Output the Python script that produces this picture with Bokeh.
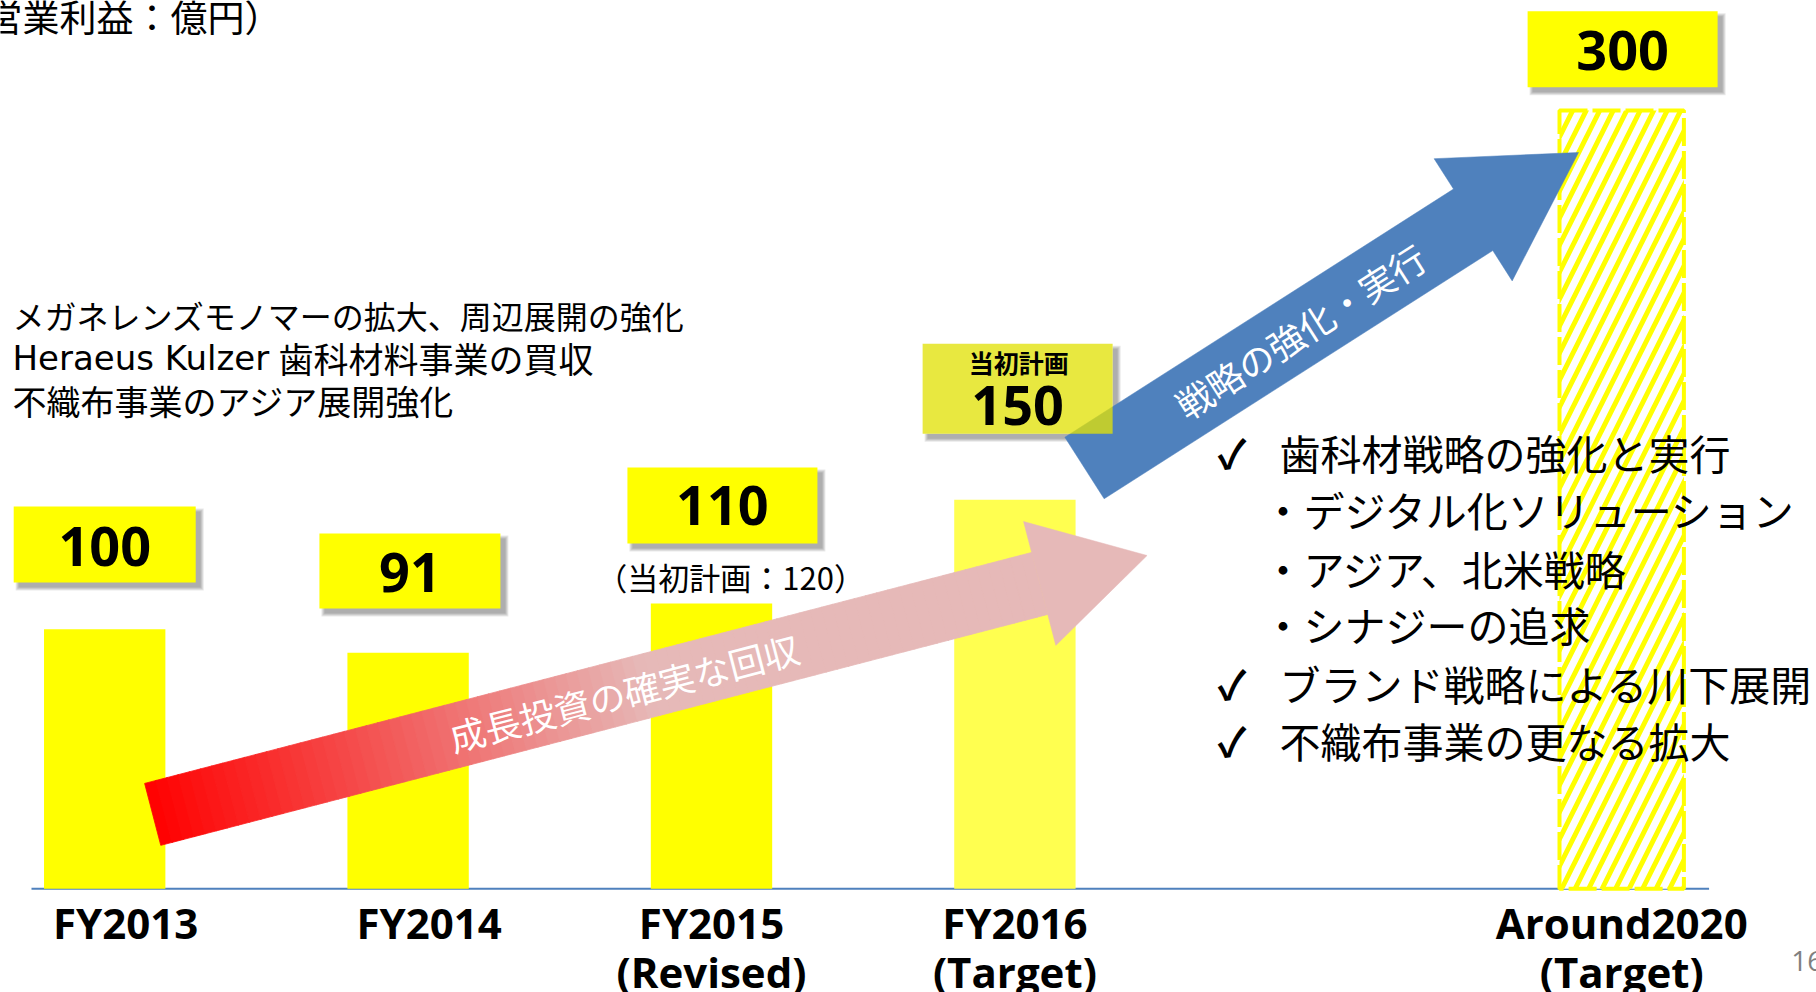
import math
from bokeh.plotting import figure
from bokeh.models import Range1d, FixedTicker, ColumnDataSource
from bokeh.core.properties import value
from bokeh.embed import file_html
from bokeh.resources import INLINE

# ---------------- data ----------------
categories = ["\u2002\u2002FY2013", "\u2002\u2002FY2014", "FY2015\n(Revised)",
              "FY2016\n(Target)", "Around2020\n(Target)"]
positions = [0, 1, 2, 3, 5]
profits = [100, 91, 110, 150, 300]          # 営業利益（億円）
value_labels = ["100", "91", "110", "150", "300"]
initial_plan_fy2015 = 120
initial_plan_tag = "当初計画"

unit_title = "（営業利益：億円）"
past_line1 = "メガネレンズモノマーの拡大、周辺展開の強化"
past_line2_company = "Heraeus Kulzer"
past_line2_rest = "歯科材料事業の買収"
past_line3 = "不織布事業のアジア展開強化"
strategy_checks = ["✓", "", "", "", "✓", "✓"]
strategy_lines = [
    "歯科材戦略の強化と実行",
    "・デジタル化ソリューション",
    "・アジア、北米戦略",
    "・シナジーの追求",
    "ブランド戦略による川下展開",
    "不織布事業の更なる拡大",
]
red_arrow_text = "成長投資の確実な回収"
blue_arrow_text = "戦略の強化・実行"
page_number = "16"

# ---------------- layout ----------------
FRAME_W, FRAME_H = 1816, 992
PX_X = 303.4        # pixels per category step
PX_Y = 2.5944       # pixels per 億円
X_LEFT = -0.34344
Y_TOP = 342.39
x_rng = Range1d(X_LEFT, X_LEFT + FRAME_W / PX_X)
y_rng = Range1d(Y_TOP - FRAME_H / PX_Y, Y_TOP)

JP = value("Noto Sans CJK JP")
NUM = value("Open Sans")

p = figure(frame_width=FRAME_W, frame_height=FRAME_H, x_range=x_rng, y_range=y_rng,
           output_backend="svg", toolbar_location=None, y_axis_location=None,
           min_border=0, min_border_left=0, min_border_right=0,
           min_border_top=0, min_border_bottom=0)
p.outline_line_color = None
p.grid.visible = False
p.background_fill_color = "white"
p.border_fill_color = "white"

# x axis: labels only, drawn at the baseline
ax = p.xaxis[0]
ax.fixed_location = 0
ax.ticker = FixedTicker(ticks=positions)
ax.major_label_overrides = {pos: cat for pos, cat in zip(positions, categories)}
ax.axis_line_color = None
ax.major_tick_line_color = None
ax.minor_tick_line_color = None
ax.major_tick_out = 5
ax.major_tick_in = 0
ax.major_label_text_font = "Open Sans"
ax.major_label_text_font_style = "bold"
ax.major_label_text_font_size = "42px"
ax.major_label_text_color = "black"
ax.major_label_text_line_height = 0.865
ax.major_label_standoff = 0

# baseline
p.segment(x0=[-0.2413], y0=[0], x1=[5.288], y1=[0], line_color="#4F81BD", line_width=2)

# solid bars
bar_colors = ["#FFFF00", "#FFFF00", "#FFFF00", "#FFFF50"]
src = ColumnDataSource(dict(x=positions[:4], top=profits[:4], color=bar_colors))
p.vbar(x="x", top="top", width=0.4, source=src, fill_color="color", line_color=None)

# hatched target bar
p.vbar(x=[positions[4]], top=[profits[4]], width=0.41, fill_color="white",
       hatch_pattern="/", hatch_color="#FFFF00", hatch_weight=5, hatch_scale=27,
       line_color="#FFFF00", line_width=4, line_dash="28 5")


# ---------------- arrows ----------------
def arrow_geom(tail, tip):
    tx, ty = tail[0] * PX_X, tail[1] * PX_Y
    hx, hy = tip[0] * PX_X, tip[1] * PX_Y
    dx, dy = hx - tx, hy - ty
    L = math.hypot(dx, dy)
    ux, uy = dx / L, dy / L
    return tx, ty, ux, uy, -uy, ux, L


def to_data(pts):
    return [a / PX_X for a, b in pts], [b / PX_Y for a, b in pts]


def arrow_body_slices(tail, tip, half_w, head_len, n):
    tx, ty, ux, uy, nx, ny, L = arrow_geom(tail, tip)
    body = L - head_len
    xs, ys, ts = [], [], []
    for i in range(n):
        s0 = body * i / n
        s1 = body * (i + 1) / n + (0.6 if i < n - 1 else 0)
        pts = [(tx + ux * s0 + nx * half_w, ty + uy * s0 + ny * half_w),
               (tx + ux * s1 + nx * half_w, ty + uy * s1 + ny * half_w),
               (tx + ux * s1 - nx * half_w, ty + uy * s1 - ny * half_w),
               (tx + ux * s0 - nx * half_w, ty + uy * s0 - ny * half_w)]
        qx, qy = to_data(pts)
        xs.append(qx)
        ys.append(qy)
        ts.append((s0 + s1) / 2 / L)
    return xs, ys, ts


def arrow_head(tail, tip, head_len, head_hw):
    tx, ty, ux, uy, nx, ny, L = arrow_geom(tail, tip)
    b = L - head_len
    bx, by = tx + ux * b, ty + uy * b
    return to_data([(bx + nx * head_hw, by + ny * head_hw), (tx + ux * L, ty + uy * L),
                    (bx - nx * head_hw, by - ny * head_hw)])


def arrow_full(tail, tip, half_w, head_len, head_hw):
    tx, ty, ux, uy, nx, ny, L = arrow_geom(tail, tip)
    b = L - head_len
    bx, by = tx + ux * b, ty + uy * b
    return to_data([(tx + nx * half_w, ty + ny * half_w), (bx + nx * half_w, by + ny * half_w),
                    (bx + nx * head_hw, by + ny * head_hw), (tx + ux * L, ty + uy * L),
                    (bx - nx * head_hw, by - ny * head_hw), (bx - nx * half_w, by - ny * half_w),
                    (tx - nx * half_w, ty - ny * half_w)])


def point_along(tail, tip, s):
    tx, ty, ux, uy, nx, ny, L = arrow_geom(tail, tip)
    (qx,), (qy,) = to_data([(tx + ux * s, ty + uy * s)])
    return qx, qy, math.atan2(uy, ux)


# red gradient arrow (growth investment)
RED_TAIL, RED_TIP = (0.1582, 28.68), (3.4357, 128.47)
red0, pink = (255, 0, 0), (230, 185, 184)
xs, ys, ts = arrow_body_slices(RED_TAIL, RED_TIP, 32, 111, 80)
cols = []
for t in ts:
    f = min(t / 0.5, 1.0)
    c = tuple(int(round(a + (b - a) * f)) for a, b in zip(red0, pink))
    cols.append("#%02x%02x%02x" % c)
p.patches(xs=xs, ys=ys, fill_color=cols, line_color=cols, line_width=0.8)
hx, hy = arrow_head(RED_TAIL, RED_TIP, 111, 64)
p.patch(x=hx, y=hy, fill_color="#E6B9B8", line_color="#E6B9B8", line_width=0.5)
rtx, rty, rang = point_along(RED_TAIL, RED_TIP, 487)
p.text(x=[rtx], y=[rty], text=[red_arrow_text], angle=rang, text_font=JP,
       text_font_size="36px", text_color="white", text_align="center",
       text_baseline="middle")

# value boxes (shadow + box + number)
box_dx = [0.0, 0.006, 0.036, 0.009, 0.003]
box_rise = [32.7, 31.5, 37.7, 42.7, 23.6]
box_w_px = [182, 181, 190, 190, 190]
box_h_px = [76, 75, 76, 90, 76]
box_fill = ["#FFFF00", "#FFFF00", "#FFFF00", "#E1E107", "#FFFF00"]
box_alpha = [1, 1, 1, 0.77, 1]
num_dy_px = [-2, -2, 0, -17, -1]

bx = [pos + d for pos, d in zip(positions, box_dx)]
by = [v + r for v, r in zip(profits, box_rise)]


def draw_shadows(idx):
    for k in range(4):
        grow = 2 * k
        p.rect(x=[bx[i] + 5 / PX_X for i in idx], y=[by[i] - 5 / PX_Y for i in idx],
               width=[(box_w_px[i] + grow) / PX_X for i in idx],
               height=[(box_h_px[i] + grow) / PX_Y for i in idx],
               fill_color="black", fill_alpha=0.09, line_color=None)


def draw_boxes(idx, under_white=False):
    if under_white:
        p.rect(x=[bx[i] for i in idx], y=[by[i] for i in idx],
               width=[box_w_px[i] / PX_X for i in idx],
               height=[box_h_px[i] / PX_Y for i in idx], fill_color="white", line_color=None)
        return
    p.rect(x=[bx[i] for i in idx], y=[by[i] for i in idx],
           width=[box_w_px[i] / PX_X for i in idx],
           height=[box_h_px[i] / PX_Y for i in idx],
           fill_color=[box_fill[i] for i in idx], fill_alpha=[box_alpha[i] for i in idx],
           line_color=None)
    p.text(x=[bx[i] for i in idx], y=[by[i] + num_dy_px[i] / PX_Y for i in idx],
           text=[value_labels[i] for i in idx], text_font=NUM, text_font_style="bold",
           text_font_size="54px", text_color="black", text_align="center",
           text_baseline="middle")


draw_shadows([0, 1, 2, 4])
draw_boxes([0, 1, 2, 4])

# FY2015 original plan note
p.text(x=[positions[2] + 0.063], y=[profits[2] + 10.5],
       text=[f"（{initial_plan_tag}：{initial_plan_fy2015}）"], text_font=JP,
       text_font_size="31px", text_color="black", text_align="center",
       text_baseline="middle")

# FY2016 box shadow, then white base under it
draw_shadows([3])
draw_boxes([3], under_white=True)

# blue arrow (strategy)
BLUE_TAIL, BLUE_TIP = (3.2294, 162.19), (4.8576, 283.80)
bxs, bys = arrow_full(BLUE_TAIL, BLUE_TIP, 36.5, 125, 72.5)
p.patch(x=bxs, y=bys, fill_color="#4F81BD", line_color="#4F81BD", line_width=0.5)
btx, bty, bang = point_along(BLUE_TAIL, BLUE_TIP, 256)
p.text(x=[btx], y=[bty], text=[blue_arrow_text], angle=bang, text_font=JP,
       text_font_size="36px", text_color="white", text_align="center",
       text_baseline="middle")

# FY2016 box over the arrow
draw_boxes([3])
p.text(x=[bx[3] + 0.004], y=[by[3] + 26.6 / PX_Y], text=[initial_plan_tag], text_font=JP,
       text_font_style="bold", text_font_size="25px", text_color="black",
       text_align="center", text_baseline="middle")

# unit title (cut at the left edge)
p.text(x=[0.5828], y=[336.4], text=[unit_title], text_font=JP, text_font_size="37px",
       text_color="black", text_align="right", text_baseline="middle")

# past initiatives
p.text(x=[-0.3039], y=[221.0], text=[past_line1], text_font=JP,
       text_font_size="32px", text_color="black", text_align="left",
       text_baseline="middle")
p.text(x=[-0.3039], y=[188.2], text=[past_line3], text_font=JP,
       text_font_size="34px", text_color="black", text_align="left",
       text_baseline="middle")
p.text(x=[-0.3039], y=[204.6], text=[past_line2_company], text_font=value("DejaVu Sans"),
       text_font_size="34px", text_color="black", text_align="left",
       text_baseline="middle")
p.text(x=[0.5728], y=[204.6], text=[past_line2_rest], text_font=JP,
       text_font_size="35px", text_color="black", text_align="left",
       text_baseline="middle")

# strategy list
line_y = [168.2, 146.4, 123.8, 102.0, 79.5, 57.5]
text_x = [3.872 if c else 3.816 for c in strategy_checks]
p.text(x=[3.668] * 6, y=line_y, text=strategy_checks, text_font=JP,
       text_font_style="bold", text_font_size="40px", text_color="black",
       text_align="left", text_baseline="middle")
p.text(x=text_x, y=line_y, text=strategy_lines, text_font=JP, text_font_size="41px",
       text_color="black", text_align="left", text_baseline="middle")

# page number
p.text(x=[5.559], y=[-28.0], text=[page_number], text_font=NUM, text_font_size="28px",
       text_color="#808080", text_align="left", text_baseline="middle")

open("out.html", "w").write(file_html(p, INLINE))
